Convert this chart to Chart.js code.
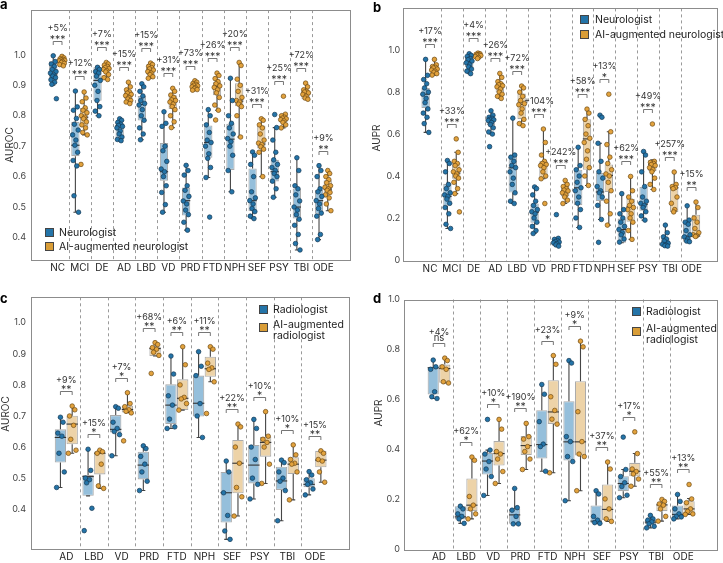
<!DOCTYPE html>
<html>
<head>
<meta charset="utf-8">
<script src="https://cdn.jsdelivr.net/npm/chart.js@4.4.1/dist/chart.umd.min.js"></script>
<style>
  body { margin: 0; background: #fff; width: 723px; height: 563px; position: relative; overflow: hidden;
         font-family: Inter, "Noto Sans", sans-serif; }
  canvas { position: absolute; }
  .letter { position: absolute; font-weight: 700; font-size: 13px; color: #000; line-height: 1; }
  .leg { position: absolute; font-size: 10.5px; color: #222; line-height: 10px; white-space: nowrap; }
  .sw { position: absolute; width: 9px; height: 9px; box-sizing: border-box; border: 0.6px solid #444; }
</style>
</head>
<body>

<canvas id="pa" width="355" height="280" style="left:0;top:0"></canvas>
<canvas id="pb" width="363" height="281" style="left:360px;top:0"></canvas>
<canvas id="pc" width="355" height="278" style="left:0;top:285px"></canvas>
<canvas id="pd" width="363" height="278" style="left:360px;top:285px"></canvas>

<div class="letter" style="left:0;top:-2px">a</div>
<div class="letter" style="left:373px;top:1px">b</div>
<div class="letter" style="left:0;top:292px">c</div>
<div class="letter" style="left:373px;top:292px">d</div>

<!-- legends -->
<div class="sw" style="left:45px;top:228px;background:#2474a8"></div>
<div class="leg" style="left:59px;top:228px">Neurologist</div>
<div class="sw" style="left:45px;top:242px;background:#d99d37"></div>
<div class="leg" style="left:59px;top:242px">AI-augmented neurologist</div>

<div class="sw" style="left:580px;top:15px;background:#2474a8"></div>
<div class="leg" style="left:595px;top:15px">Neurologist</div>
<div class="sw" style="left:580px;top:30px;background:#d99d37"></div>
<div class="leg" style="left:595px;top:30px">AI-augmented neurologist</div>

<div class="sw" style="left:259px;top:305px;background:#2474a8"></div>
<div class="leg" style="left:273px;top:305px">Radiologist</div>
<div class="sw" style="left:259px;top:323px;background:#d99d37"></div>
<div class="leg" style="left:273px;top:319px;line-height:11px">AI-augmented<br>radiologist</div>

<div class="sw" style="left:632px;top:307px;background:#2474a8"></div>
<div class="leg" style="left:646px;top:307px">Radiologist</div>
<div class="sw" style="left:632px;top:327px;background:#d99d37"></div>
<div class="leg" style="left:646px;top:323px;line-height:11px">AI-augmented<br>radiologist</div>

<script>
// ---------- data (box = [lowWhisker, q1, median, q3, highWhisker]) ----------

// a: AUROC, neurologist vs AI-augmented neurologist
const A_CATS = ["NC","MCI","DE","AD","LBD","VD","PRD","FTD","NPH","SEF","PSY","TBI","ODE"];
const A_HUM_BOX = [
  [0.900,0.915,0.934,0.979,0.997],[0.483,0.667,0.703,0.780,0.881],[0.800,0.849,0.916,0.959,0.962],
  [0.718,0.726,0.768,0.775,0.790],[0.721,0.784,0.837,0.865,0.905],[0.483,0.586,0.616,0.710,0.813],
  [0.424,0.472,0.521,0.564,0.637],[0.597,0.662,0.712,0.768,0.820],[0.550,0.622,0.723,0.774,0.923],
  [0.462,0.486,0.521,0.627,0.681],[0.532,0.584,0.616,0.655,0.761],[0.359,0.462,0.500,0.561,0.662],
  [0.393,0.478,0.521,0.556,0.636]
];
const A_AI_BOX = [
  [0.964,0.975,0.983,0.988,0.997],[0.737,0.764,0.795,0.826,0.878],[0.919,0.945,0.956,0.972,0.975],
  [0.840,0.854,0.872,0.880,0.910],[0.923,0.934,0.954,0.970,0.973],[0.761,0.822,0.850,0.867,0.890],
  [0.884,0.886,0.900,0.910,0.915],[0.818,0.867,0.896,0.910,0.940],[0.730,0.831,0.848,0.907,0.975],
  [0.600,0.692,0.707,0.768,0.790],[0.760,0.778,0.791,0.802,0.805],[0.854,0.854,0.878,0.883,0.907],
  [0.488,0.543,0.559,0.588,0.620]
];
const A_HUM_PTS = [
  [0.997,0.978,0.970,0.962,0.952,0.945,0.940,0.934,0.930,0.925,0.918,0.910,0.903,0.856],
  [0.881,0.829,0.818,0.791,0.772,0.753,0.737,0.720,0.703,0.680,0.653,0.635,0.537,0.483],
  [0.959,0.952,0.945,0.940,0.930,0.916,0.900,0.880,0.850,0.830,0.815,0.800],
  [0.790,0.785,0.778,0.772,0.768,0.765,0.760,0.750,0.740,0.730,0.722,0.718],
  [0.905,0.895,0.880,0.865,0.850,0.840,0.835,0.820,0.800,0.785,0.760,0.740,0.721],
  [0.813,0.775,0.765,0.700,0.685,0.650,0.625,0.616,0.600,0.570,0.548,0.508,0.483],
  [0.637,0.620,0.605,0.570,0.555,0.535,0.520,0.510,0.490,0.475,0.450,0.424],
  [0.820,0.800,0.770,0.745,0.720,0.712,0.700,0.675,0.660,0.630,0.597,0.467],
  [0.923,0.850,0.800,0.775,0.760,0.740,0.725,0.715,0.700,0.670,0.620,0.550],
  [0.681,0.670,0.640,0.600,0.550,0.530,0.521,0.510,0.495,0.485,0.470,0.462],
  [0.804,0.761,0.720,0.680,0.655,0.640,0.630,0.620,0.610,0.600,0.585,0.560,0.532],
  [0.662,0.620,0.570,0.560,0.540,0.520,0.500,0.490,0.475,0.460,0.440,0.410,0.380,0.359],
  [0.636,0.620,0.600,0.560,0.550,0.535,0.521,0.510,0.495,0.480,0.470,0.410,0.393]
];
const A_AI_PTS = [
  [0.995,0.990,0.987,0.985,0.983,0.982,0.980,0.978,0.975,0.972,0.968,0.964],
  [0.878,0.858,0.846,0.826,0.818,0.810,0.800,0.795,0.790,0.780,0.770,0.760,0.745,0.737,0.640],
  [0.975,0.970,0.966,0.962,0.958,0.955,0.952,0.948,0.944,0.935,0.925,0.919],
  [0.910,0.895,0.885,0.878,0.874,0.870,0.866,0.860,0.855,0.850,0.845,0.840],
  [0.973,0.968,0.962,0.958,0.954,0.950,0.945,0.940,0.935,0.928,0.923],
  [0.890,0.880,0.868,0.860,0.852,0.850,0.845,0.838,0.830,0.820,0.800,0.780,0.761],
  [0.915,0.910,0.906,0.903,0.900,0.898,0.895,0.892,0.889,0.886,0.884],
  [0.940,0.932,0.922,0.912,0.905,0.898,0.893,0.885,0.875,0.860,0.835,0.818,0.786],
  [0.975,0.965,0.920,0.900,0.880,0.860,0.850,0.845,0.838,0.830,0.800,0.730],
  [0.790,0.785,0.770,0.760,0.740,0.720,0.710,0.705,0.698,0.690,0.680,0.600],
  [0.864,0.805,0.800,0.795,0.792,0.790,0.787,0.783,0.778,0.770,0.760],
  [0.907,0.895,0.885,0.880,0.878,0.875,0.870,0.864,0.858,0.854],
  [0.620,0.610,0.600,0.590,0.580,0.570,0.565,0.560,0.555,0.548,0.540,0.530,0.510,0.488]
];
const A_PCT = ["+5%","+12%","+7%","+15%","+15%","+31%","+73%","+26%","+20%","+31%","+25%","+72%","+9%"];
const A_SIG = ["***","***","***","***","***","***","***","***","***","***","***","***","**"];
const A_YTICKS = [0.4,0.5,0.6,0.7,0.8,0.9,1.0];

// b: AUPR, neurologist vs AI-augmented neurologist
const B_CATS = A_CATS;
const B_HUM_BOX = [
  [0.608,0.724,0.790,0.820,0.956],[0.150,0.258,0.303,0.363,0.474],[0.888,0.919,0.945,0.967,0.983],
  [0.600,0.643,0.670,0.680,0.711],[0.269,0.321,0.439,0.498,0.676],[0.126,0.177,0.227,0.269,0.348],
  [0.066,0.066,0.084,0.103,0.103],[0.155,0.261,0.344,0.430,0.537],[0.193,0.281,0.324,0.414,0.556],
  [0.082,0.082,0.145,0.197,0.316],[0.190,0.234,0.265,0.348,0.517],[0.066,0.066,0.074,0.106,0.166],
  [0.087,0.087,0.114,0.186,0.258]
];
const B_AI_BOX = [
  [0.881,0.881,0.916,0.924,0.956],[0.316,0.387,0.414,0.463,0.513],[0.960,0.960,0.976,0.984,0.986],
  [0.770,0.798,0.833,0.845,0.889],[0.640,0.671,0.742,0.793,0.829],[0.387,0.387,0.455,0.471,0.624],
  [0.269,0.303,0.329,0.355,0.379],[0.355,0.430,0.577,0.671,0.719],[0.166,0.324,0.403,0.455,0.611],
  [0.098,0.182,0.253,0.292,0.398],[0.336,0.423,0.455,0.477,0.477],[0.229,0.229,0.344,0.348,0.419],
  [0.112,0.112,0.114,0.216,0.276]
];
const B_HUM_PTS = [
  [0.956,0.880,0.860,0.840,0.820,0.800,0.790,0.770,0.750,0.720,0.700,0.680,0.650,0.608],
  [0.474,0.460,0.420,0.360,0.340,0.320,0.310,0.303,0.290,0.270,0.250,0.220,0.170,0.150],
  [0.983,0.975,0.970,0.960,0.955,0.948,0.940,0.930,0.920,0.910,0.900,0.888],
  [0.711,0.690,0.680,0.675,0.670,0.668,0.665,0.655,0.645,0.630,0.610,0.600,0.540],
  [0.676,0.500,0.490,0.470,0.450,0.440,0.420,0.390,0.360,0.320,0.280,0.269],
  [0.348,0.340,0.310,0.280,0.260,0.240,0.230,0.220,0.200,0.180,0.160,0.140,0.126],
  [0.216,0.103,0.098,0.092,0.088,0.085,0.082,0.078,0.072,0.066],
  [0.537,0.450,0.430,0.400,0.370,0.344,0.330,0.300,0.270,0.240,0.200,0.155],
  [0.690,0.680,0.556,0.470,0.420,0.390,0.350,0.330,0.320,0.300,0.260,0.193,0.084],
  [0.316,0.240,0.220,0.200,0.180,0.160,0.145,0.130,0.120,0.100,0.085],
  [0.517,0.500,0.420,0.350,0.300,0.280,0.270,0.260,0.250,0.230,0.210,0.190],
  [0.166,0.130,0.110,0.100,0.090,0.080,0.075,0.072,0.068,0.066],
  [0.258,0.190,0.180,0.170,0.140,0.120,0.110,0.100,0.090,0.087]
];
const B_AI_PTS = [
  [0.956,0.930,0.922,0.918,0.915,0.910,0.905,0.900,0.895,0.888,0.881],
  [0.577,0.513,0.470,0.460,0.450,0.430,0.420,0.410,0.400,0.390,0.370,0.340,0.316,0.229],
  [0.986,0.983,0.980,0.978,0.976,0.974,0.970,0.965,0.960],
  [0.889,0.870,0.850,0.840,0.835,0.830,0.825,0.815,0.800,0.790,0.780,0.770],
  [0.829,0.820,0.800,0.780,0.760,0.745,0.740,0.720,0.700,0.670,0.650,0.640],
  [0.624,0.560,0.500,0.470,0.460,0.455,0.450,0.440,0.420,0.400,0.387,0.269],
  [0.379,0.360,0.350,0.340,0.333,0.329,0.320,0.310,0.300,0.285,0.269],
  [0.719,0.700,0.670,0.640,0.600,0.580,0.560,0.520,0.480,0.440,0.400,0.355],
  [0.790,0.611,0.550,0.490,0.460,0.430,0.410,0.400,0.370,0.330,0.280,0.220,0.166],
  [0.398,0.330,0.300,0.280,0.260,0.250,0.240,0.220,0.200,0.180,0.140,0.098],
  [0.648,0.470,0.465,0.460,0.455,0.450,0.440,0.430,0.420,0.390,0.360,0.336],
  [0.419,0.360,0.350,0.345,0.340,0.300,0.270,0.240,0.229],
  [0.276,0.250,0.200,0.180,0.150,0.130,0.120,0.115,0.112]
];
const B_PCT = ["+17%","+33%","+4%","+26%","+72%","+104%","+242%","+58%","+13%","+62%","+49%","+257%","+15%"];
const B_SIG = ["***","***","***","***","***","***","***","***","*","***","***","***","**"];
const B_YTICKS = [0,0.2,0.4,0.6,0.8,1.0];

// c: AUROC, radiologist vs AI-augmented radiologist
const C_CATS = ["AD","LBD","VD","PRD","FTD","NPH","SEF","PSY","TBI","ODE"];
const C_HUM_BOX = [
  [0.470,0.550,0.631,0.657,0.696],[0.443,0.443,0.505,0.510,0.593],[0.572,0.647,0.657,0.703,0.730],
  [0.460,0.496,0.542,0.585,0.604],[0.660,0.674,0.735,0.802,0.893],[0.631,0.698,0.741,0.830,0.907],
  [0.303,0.357,0.453,0.520,0.555],[0.433,0.483,0.542,0.607,0.689],[0.363,0.462,0.491,0.537,0.558],
  [0.446,0.471,0.480,0.500,0.521]
];
const C_AI_BOX = [
  [0.580,0.609,0.674,0.701,0.732],[0.467,0.512,0.580,0.586,0.590],[0.711,0.711,0.721,0.733,0.775],
  [0.893,0.893,0.917,0.923,0.936],[0.719,0.719,0.757,0.818,0.923],[0.810,0.826,0.852,0.891,0.923],
  [0.378,0.451,0.548,0.623,0.674],[0.483,0.569,0.615,0.633,0.714],[0.430,0.513,0.545,0.567,0.607],
  [0.487,0.535,0.558,0.588,0.588]
];
const C_HUM_PTS = [
  [0.696,0.680,0.645,0.635,0.580,0.520,0.470],[0.593,0.525,0.500,0.495,0.485,0.403,0.331],
  [0.730,0.725,0.680,0.660,0.650,0.640,0.572],[0.604,0.595,0.570,0.545,0.520,0.490,0.460],
  [0.893,0.835,0.765,0.735,0.690,0.665,0.660],[0.907,0.860,0.830,0.740,0.700,0.631],
  [0.555,0.520,0.453,0.380,0.330,0.303],[0.689,0.660,0.600,0.560,0.500,0.480,0.433],
  [0.558,0.550,0.520,0.500,0.490,0.460,0.363],[0.521,0.510,0.495,0.485,0.480,0.465,0.446]
];
const C_AI_PTS = [
  [0.732,0.720,0.700,0.670,0.625,0.590,0.580],[0.590,0.585,0.580,0.545,0.475,0.467],
  [0.775,0.740,0.730,0.720,0.715,0.710,0.620],[0.936,0.930,0.920,0.915,0.905,0.895,0.837],
  [0.923,0.865,0.800,0.760,0.755,0.740,0.719],[0.923,0.915,0.870,0.855,0.850,0.810,0.708],
  [0.674,0.665,0.600,0.548,0.470,0.440,0.378],[0.714,0.635,0.625,0.615,0.600,0.545,0.483],
  [0.607,0.575,0.560,0.548,0.545,0.520,0.430],[0.588,0.580,0.560,0.555,0.520,0.487]
];
const C_PCT = ["+9%","+15%","+7%","+68%","+6%","+11%","+22%","+10%","+10%","+15%"];
const C_SIG = ["**","*","*","**","**","**","**","*","*","**"];
const C_YTICKS = A_YTICKS;

// d: AUPR, radiologist vs AI-augmented radiologist
const D_CATS = C_CATS;
const D_HUM_BOX = [
  [0.603,0.619,0.726,0.729,0.757],[0.102,0.118,0.128,0.171,0.171],[0.214,0.298,0.352,0.385,0.396],
  [0.100,0.100,0.136,0.160,0.242],[0.311,0.362,0.418,0.556,0.659],[0.193,0.354,0.429,0.592,0.755],
  [0.102,0.102,0.111,0.174,0.233],[0.205,0.231,0.262,0.291,0.318],[0.084,0.098,0.107,0.118,0.134],
  [0.120,0.128,0.138,0.174,0.218]
];
const D_AI_BOX = [
  [0.665,0.666,0.723,0.739,0.765],[0.120,0.151,0.175,0.282,0.368],[0.262,0.334,0.382,0.432,0.519],
  [0.318,0.376,0.414,0.452,0.503],[0.305,0.501,0.549,0.676,0.775],[0.233,0.374,0.429,0.672,0.833],
  [0.110,0.115,0.158,0.258,0.348],[0.251,0.291,0.311,0.345,0.382],[0.111,0.151,0.176,0.182,0.198],
  [0.138,0.138,0.160,0.191,0.202]
];
const D_HUM_PTS = [
  [0.757,0.730,0.720,0.630,0.610,0.603],[0.171,0.160,0.140,0.130,0.120,0.102],
  [0.519,0.396,0.380,0.350,0.320,0.290,0.214],[0.242,0.165,0.155,0.130,0.100,0.100],
  [0.659,0.620,0.510,0.420,0.410,0.311],[0.755,0.745,0.450,0.430,0.370,0.350,0.193],
  [0.233,0.220,0.130,0.115,0.105,0.102],[0.448,0.318,0.290,0.265,0.250,0.215,0.205],
  [0.134,0.120,0.115,0.108,0.100,0.090,0.084],[0.218,0.190,0.160,0.140,0.130,0.128,0.120]
];
const D_AI_PTS = [
  [0.765,0.755,0.730,0.720,0.670,0.665],[0.368,0.355,0.210,0.175,0.160,0.140,0.120],
  [0.519,0.480,0.390,0.380,0.360,0.310,0.262],[0.503,0.450,0.440,0.410,0.390,0.360,0.318],
  [0.775,0.740,0.610,0.555,0.520,0.500,0.305],[0.833,0.810,0.550,0.430,0.380,0.370,0.233],
  [0.348,0.320,0.200,0.160,0.120,0.110],[0.469,0.382,0.320,0.310,0.300,0.280,0.251],
  [0.198,0.190,0.180,0.175,0.160,0.130,0.111],[0.258,0.200,0.185,0.160,0.150,0.140,0.138]
];
const D_PCT = ["+4%","+62%","+10%","+190%","+23%","+9%","+37%","+17%","+55%","+13%"];
const D_SIG = ["ns","*","*","**","*","*","**","*","**","**"];
const D_YTICKS = B_YTICKS;

// ---------- style ----------
const FONT = "Inter, 'Noto Sans', sans-serif";
const BLUE_BOX = "#95bfdb", AI_BOX = "#edd3a8", BOX_EDGE = "#ababab";
const BLUE_PT = "#2474a8", BLUE_EDGE = "#163a55";
const ORANGE_PT = "#e2a23d", ORANGE_EDGE = "#6e4b14";
const WHISK = "#454545", MEDIAN = "#333333";
// fixed horizontal spread pattern for the dots (fraction of half a box)
const JIT = [0, 0.55, -0.55, 0.3, -0.3, 0.8, -0.8, 0.15, -0.15, 0.65, -0.65, 0.4, -0.4, 0.9, -0.9];

function makePanel(id, cats, humBox, aiBox, humPts, aiPts, pct, sig, yTicks, g) {
  const n = cats.length;
  const off = g.cp / 4;
  const bw = g.cp / 2 * g.bp;
  const toPts = (pts, sign) => pts.flatMap((vals, i) =>
    vals.map((v, k) => ({ x: i + sign * off + JIT[k % JIT.length] * bw * 0.42, y: v })));
  const boxes = [humBox, aiBox];

  const extras = {
    id: "extras_" + id,
    // dashed separators between categories
    beforeDatasetsDraw(chart) {
      const { ctx, chartArea: ca, scales: { x } } = chart;
      ctx.save();
      ctx.strokeStyle = "#9a9a9a";
      ctx.lineWidth = 1;
      ctx.setLineDash([3, 3]);
      for (let i = 0; i < n - 1; i++) {
        const px = Math.round(x.getPixelForValue(i + 0.5)) + 0.5;
        ctx.beginPath(); ctx.moveTo(px, ca.top); ctx.lineTo(px, ca.bottom); ctx.stroke();
      }
      ctx.restore();
    },
    // whiskers + median on top of each box dataset
    afterDatasetDraw(chart, args) {
      if (args.meta.type !== "bar") return;
      const { ctx, scales: { y } } = chart;
      const bx = boxes[args.index];
      ctx.save();
      args.meta.data.forEach((el, i) => {
        const b = bx[i];
        const cx = el.x, hw = el.width / 2;
        ctx.strokeStyle = WHISK; ctx.lineWidth = 1.1;
        ctx.beginPath();
        ctx.moveTo(cx, y.getPixelForValue(b[4])); ctx.lineTo(cx, y.getPixelForValue(b[3]));
        ctx.moveTo(cx, y.getPixelForValue(b[1])); ctx.lineTo(cx, y.getPixelForValue(b[0]));
        ctx.moveTo(cx - 2, y.getPixelForValue(b[4])); ctx.lineTo(cx + 2, y.getPixelForValue(b[4]));
        ctx.moveTo(cx - 2, y.getPixelForValue(b[0])); ctx.lineTo(cx + 2, y.getPixelForValue(b[0]));
        ctx.stroke();
        ctx.strokeStyle = MEDIAN; ctx.lineWidth = 1.1;
        ctx.beginPath();
        ctx.moveTo(cx - hw, y.getPixelForValue(b[2])); ctx.lineTo(cx + hw, y.getPixelForValue(b[2]));
        ctx.stroke();
      });
      ctx.restore();
    },
    // frame, y title, significance brackets
    afterDraw(chart) {
      const { ctx, chartArea: ca, scales: { x, y } } = chart;
      ctx.save();
      ctx.strokeStyle = "#8c8c8c"; ctx.lineWidth = 1;
      ctx.strokeRect(Math.round(ca.left) + 0.5, Math.round(ca.top) + 0.5,
                     Math.round(ca.right - ca.left) - 1, Math.round(ca.bottom - ca.top));
      ctx.fillStyle = "#333"; ctx.font = "10px " + FONT;
      ctx.translate(g.title[0], g.title[1]); ctx.rotate(-Math.PI / 2);
      ctx.textAlign = "center"; ctx.textBaseline = "middle";
      ctx.fillText(g.titleText, 0, 0);
      ctx.restore();

      ctx.save();
      for (let i = 0; i < n; i++) {
        const top = Math.max(humBox[i][4], aiBox[i][4], ...humPts[i], ...aiPts[i]);
        const yb = Math.round(y.getPixelForValue(top) - g.gap) + 0.5;
        const x1 = x.getPixelForValue(i - off), x2 = x.getPixelForValue(i + off);
        ctx.strokeStyle = "#666"; ctx.lineWidth = 0.9;
        ctx.beginPath();
        ctx.moveTo(x1, yb + 3.5); ctx.lineTo(x1, yb); ctx.lineTo(x2, yb); ctx.lineTo(x2, yb + 3.5);
        ctx.stroke();
        const cx = (x1 + x2) / 2;
        ctx.fillStyle = "#333"; ctx.textAlign = "center"; ctx.textBaseline = "alphabetic";
        ctx.font = "9px " + FONT;
        ctx.fillText(pct[i], cx, yb - g.pctOff);
        if (sig[i] === "ns") {
          ctx.font = "9.5px " + FONT;
          ctx.fillText(sig[i], cx, yb - 2.5);
        } else {
          ctx.font = "10.5px " + FONT;
          ctx.fillText(sig[i], cx, yb + 1);
        }
      }
      ctx.restore();
    }
  };

  const barSet = (bx, color) => ({
    type: "bar",
    data: bx.map((b, i) => ({ x: i, y: [b[1], b[3]] })),
    backgroundColor: color, borderColor: BOX_EDGE, borderWidth: 1.1, borderSkipped: false,
    categoryPercentage: g.cp, barPercentage: g.bp, order: 3
  });
  const ptSet = (pts, sign, fill, edge) => ({
    type: "scatter",
    data: toPts(pts, sign),
    pointRadius: 2.3, pointBackgroundColor: fill, pointBorderColor: edge, pointBorderWidth: 0.7,
    order: 1
  });

  new Chart(document.getElementById(id), {
    type: "bar",
    data: {
      datasets: [
        barSet(humBox, BLUE_BOX), barSet(aiBox, AI_BOX),
        ptSet(humPts, -1, BLUE_PT, BLUE_EDGE), ptSet(aiPts, 1, ORANGE_PT, ORANGE_EDGE)
      ]
    },
    options: {
      responsive: false, animation: false, devicePixelRatio: 1,
      layout: { padding: { top: g.padTop, right: g.padRight, left: 0, bottom: 0 } },
      plugins: { legend: { display: false }, tooltip: { enabled: false } },
      scales: {
        x: {
          type: "linear", min: -0.5 - g.m, max: n - 0.5 + g.m,
          grid: { display: false, drawTicks: false }, border: { display: false },
          afterBuildTicks: s => { s.ticks = cats.map((_, i) => ({ value: i })); },
          afterFit: s => { s.height = g.xh; },
          ticks: { callback: v => cats[v] ?? "", autoSkip: false, maxRotation: 0, padding: 2,
                   color: "#222", font: { family: FONT, size: 10 } }
        },
        y: {
          min: g.ymin, max: g.ymax,
          grid: { display: false, drawTicks: false }, border: { display: false },
          afterBuildTicks: s => { s.ticks = yTicks.map(v => ({ value: v })); },
          afterFit: s => { s.width = g.yw; },
          ticks: { callback: v => (v === 0 ? "0" : v.toFixed(1)), padding: g.tickPad,
                   color: "#444", font: { family: FONT, size: 9 } }
        }
      }
    },
    plugins: [extras]
  });
}

makePanel("pa", A_CATS, A_HUM_BOX, A_AI_BOX, A_HUM_PTS, A_AI_PTS, A_PCT, A_SIG, A_YTICKS,
  { yw: 30.7, padTop: 7, padRight: 4.7, xh: 20, m: 0.16, cp: 0.79, bp: 0.95, pctOff: 10.5,
    ymin: 0.326, ymax: 1.147, tickPad: 4.7, gap: 15, title: [10, 145], titleText: "AUROC" });
makePanel("pb", B_CATS, B_HUM_BOX, B_AI_BOX, B_HUM_PTS, B_AI_PTS, B_PCT, B_SIG, B_YTICKS,
  { yw: 43.3, padTop: 7.3, padRight: 1, xh: 20, m: 0.17, cp: 0.81, bp: 0.95, pctOff: 10.5,
    ymin: -0.005, ymax: 1.199, tickPad: 3, gap: 15, title: [17, 138], titleText: "AUPR" });
makePanel("pc", C_CATS, C_HUM_BOX, C_AI_BOX, C_HUM_PTS, C_AI_PTS, C_PCT, C_SIG, C_YTICKS,
  { yw: 31, padTop: 12.3, padRight: 4.7, xh: 13.7, m: 0.2, cp: 0.85, bp: 0.97, pctOff: 9,
    ymin: 0.271, ymax: 1.082, tickPad: 5, gap: 15, title: [6, 129], titleText: "AUROC" });
makePanel("pd", D_CATS, D_HUM_BOX, D_AI_BOX, D_HUM_PTS, D_AI_PTS, D_PCT, D_SIG, D_YTICKS,
  { yw: 44, padTop: 14.5, padRight: 1, xh: 13.7, m: 0.21, cp: 0.85, bp: 0.97, pctOff: 9,
    ymin: -0.002, ymax: 1.0, tickPad: 4, gap: 15, title: [18.5, 128], titleText: "AUPR" });
</script>
</body>
</html>
